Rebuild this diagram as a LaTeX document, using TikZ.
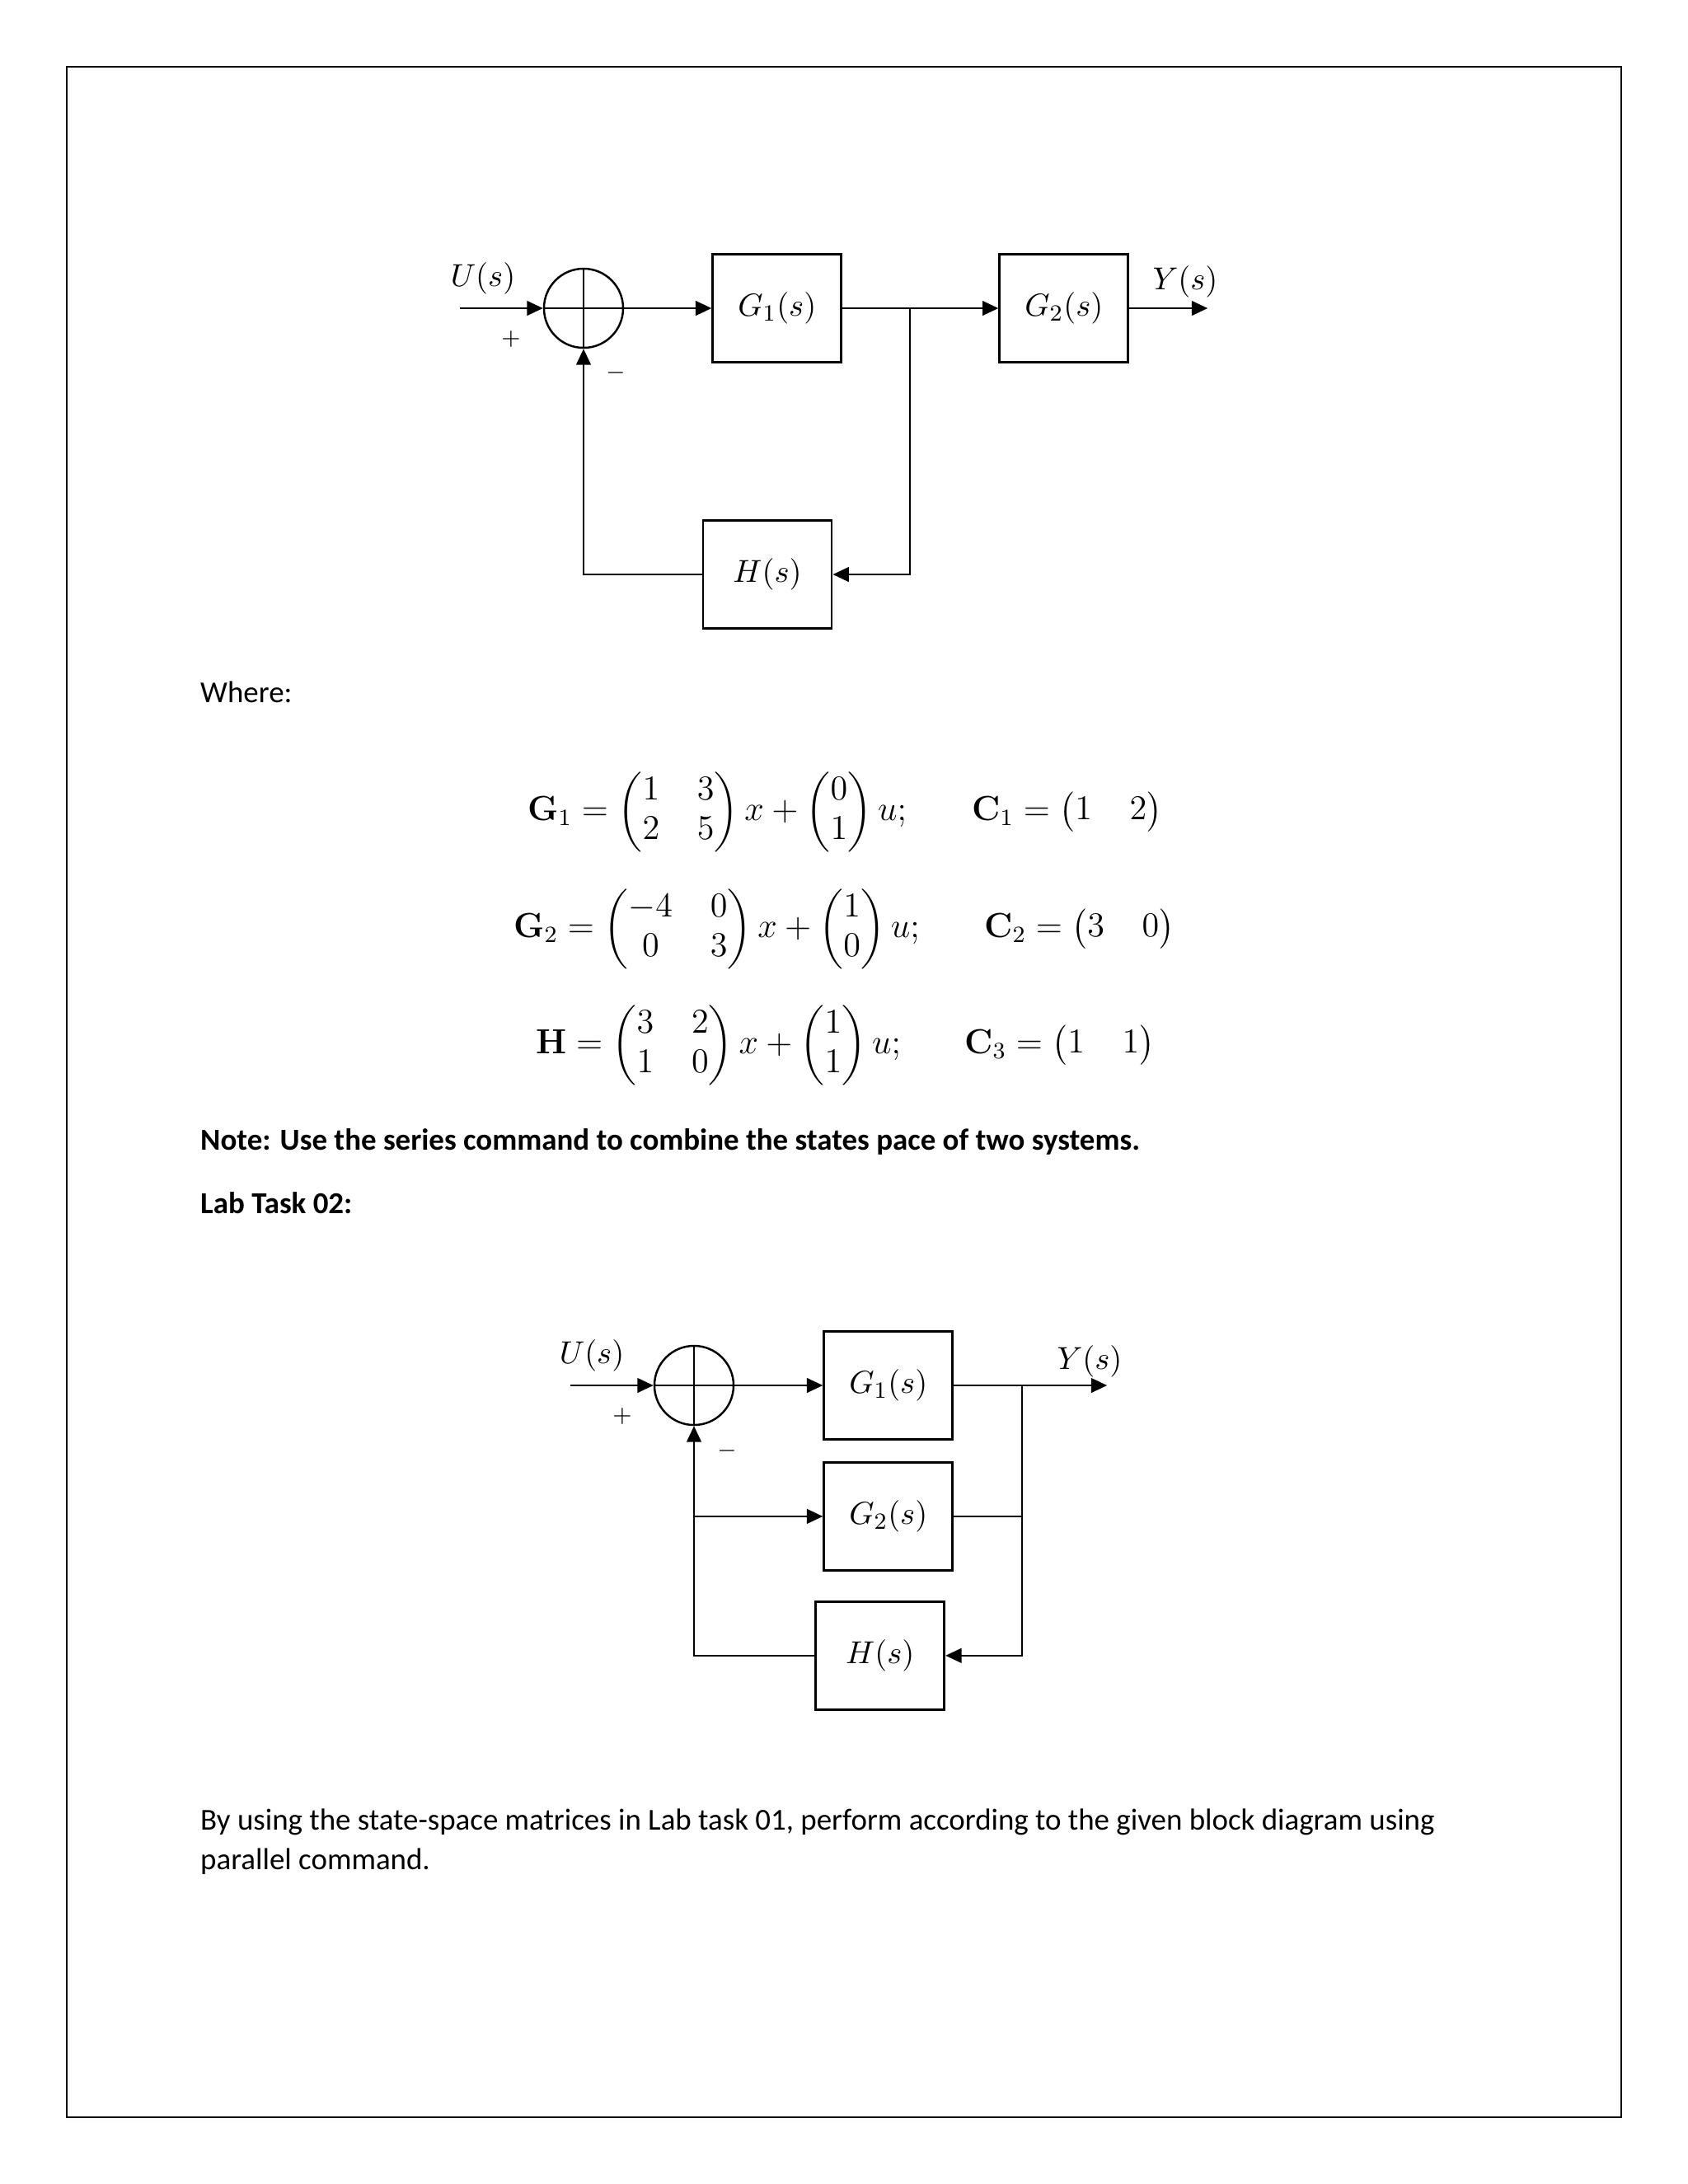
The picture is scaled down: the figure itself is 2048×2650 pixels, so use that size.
\documentclass[tikz,border=0pt]{standalone}
\usepackage{amsmath, amssymb}
\usepackage[no-math]{fontspec}
\setmainfont{Carlito}
\usepackage{tikz}
\usetikzlibrary{arrows.meta,positioning,calc}
\tikzset{
  block/.style={draw,line width=0.8pt,minimum width=1.56cm,minimum height=1.31cm,inner sep=0pt,font=\fontsize{11}{13}\selectfont},
  sumnode/.style={circle,draw,line width=0.7pt,minimum size=0.96cm,inner sep=0pt},
  sig/.style={font=\fontsize{11}{13}\selectfont,inner sep=0pt},
  sgn/.style={font=\footnotesize,inner sep=0pt},
  eqn/.style={anchor=west,inner sep=0pt,font=\fontsize{11.5}{13.5}\selectfont,execute at begin node={\setlength{\arraycolsep}{6.5pt}}},
  txt/.style={anchor=west,inner sep=0pt,align=left,font=\fontsize{10.5}{13.4}\selectfont},
}

\begin{document}
\begin{tikzpicture}[>={Triangle[length=5.5pt,width=5pt]},line width=0.7pt,x=0.01cm,y=-0.01cm]
  \useasboundingbox (0,0) rectangle (2048,2650);
  \draw[line width=0.8pt] (81,81) rectangle (1967,2569);

  % series loop
  \node[sumnode] (s1) at (708,374) {};
  \draw (s1.north) -- (s1.south) (s1.west) -- (s1.east);
  \node[block,right=1.06cm of s1] (g1) {$G_1(s)$};
  \node[block,right=1.89cm of g1] (g2) {$G_2(s)$};
  \node[block] (h1) at (931,697) {$H(s)$};
  \coordinate (u1) at (558,374);
  \coordinate (b1) at ($(g1.east)+(82,0)$);
  \coordinate (y1) at ($(g2.east)+(95,0)$);
  \draw[->] (u1) -- (s1);
  \draw[->] (s1) -- (g1);
  \draw[->] (g1) -- (g2);
  \draw[->] (g2) -- (y1);
  \draw[->] (b1) |- (h1);
  \draw[->] (h1) -| (s1);
  \node[sig] (ulab1) at (586,338) {$U(s)$};
  \node[sig] (ylab1) at (1438,342) {$Y(s)$};
  \node[sgn] (plus1) at (620,411) {$+$};
  \node[sgn] (minus1) at (747,452) {$-$};

  \node[txt] (where) at (242,840) {Where:};

  % state-space data
  \node[eqn] (eqg1) at (639,985) {$\mathbf{G}_1 = \begin{pmatrix}1 & 3\\ 2 & 5\end{pmatrix} x + \begin{pmatrix}0\\ 1\end{pmatrix} u;$};
  \node[eqn] (eqc1) at (1178,985) {$\mathbf{C}_1 = \begin{pmatrix}1 & 2\end{pmatrix}$};
  \node[eqn] (eqg2) at (622,1127) {$\mathbf{G}_2 = \begin{pmatrix}-4 & 0\\ 0 & 3\end{pmatrix} x + \begin{pmatrix}1\\ 0\end{pmatrix} u;$};
  \node[eqn] (eqc2) at (1193,1127) {$\mathbf{C}_2 = \begin{pmatrix}3 & 0\end{pmatrix}$};
  \node[eqn] (eqh) at (649,1268) {$\mathbf{H} = \begin{pmatrix}3 & 2\\ 1 & 0\end{pmatrix} x + \begin{pmatrix}1\\ 1\end{pmatrix} u;$};
  \node[eqn] (eqc3) at (1169,1268) {$\mathbf{C}_3 = \begin{pmatrix}1 & 1\end{pmatrix}$};

  \node[txt,font=\fontsize{10.5}{13.4}\selectfont\bfseries] (note) at (242,1385) {Note: Use the series command to combine the states pace of two systems.};
  \node[txt,font=\fontsize{10.5}{13.4}\selectfont\bfseries] (task) at (242,1460) {Lab Task 02:};

  % parallel loop
  \node[sumnode] (s2) at (842,1681) {};
  \draw (s2.north) -- (s2.south) (s2.west) -- (s2.east);
  \node[block,right=1.07cm of s2] (g3) {$G_1(s)$};
  \node[block,below=0.25cm of g3] (g4) {$G_2(s)$};
  \node[block,below=0.35cm of g4,xshift=-0.1cm] (h2) {$H(s)$};
  \coordinate (u2) at (692,1681);
  \coordinate (b2) at ($(g3.east)+(83,0)$);
  \coordinate (y2) at ($(g3.east)+(186,0)$);
  \draw[->] (u2) -- (s2);
  \draw[->] (s2) -- (g3);
  \draw[->] (g3) -- (y2);
  \draw[->] (g4.west -| s2) -- (g4);
  \draw (g4.east) -- (g4.east -| b2);
  \draw[->] (b2) |- (h2);
  \draw[->] (h2) -| (s2);
  \node[sig] (ulab2) at (718,1645) {$U(s)$};
  \node[sig] (ylab2) at (1322,1652) {$Y(s)$};
  \node[sgn] (plus2) at (755,1718) {$+$};
  \node[sgn] (minus2) at (882,1760) {$-$};

  \node[txt,anchor=north west] (para) at (242,2194) {By using the state-space matrices in Lab task 01, perform according to the given block diagram using\\parallel command.};
\end{tikzpicture}
\end{document}
